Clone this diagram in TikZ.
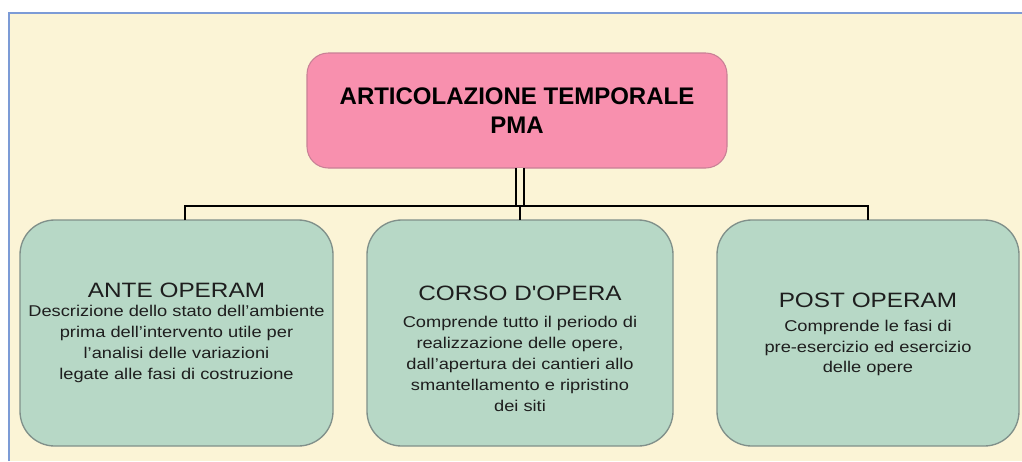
\documentclass[tikz,border=0pt]{standalone}
\usepackage{fontspec}
\setmainfont{Liberation Sans}
\newfontfamily\widefont{Liberation Sans}[FakeStretch=1.17]
\definecolor{cream}{HTML}{FBF4D6}
\definecolor{panelblue}{HTML}{7C9BD6}
\definecolor{boxgreen}{HTML}{B7D8C6}
\definecolor{boxline}{HTML}{80908A}
\definecolor{pinkfill}{HTML}{F890AE}
\definecolor{pinkline}{HTML}{C98096}
\definecolor{txtdark}{HTML}{1E1E1E}
\begin{document}
\begin{tikzpicture}[x=0.75pt,y=-0.75pt,
  phase/.style={draw=boxline, fill=boxgreen, rounded corners=26pt, line width=1pt,
    minimum height=169.5pt, inner sep=0pt, outer sep=0pt},
  headbox/.style={draw=pinkline, fill=pinkfill, rounded corners=16pt, line width=0.8pt,
    minimum width=315pt, minimum height=86.25pt, inner sep=0pt, outer sep=0pt,
    align=center, font=\bfseries\fontsize{18}{22}\selectfont, text=black},
  ttl/.style={inner sep=0pt, font=\widefont\fontsize{15.6}{18}\selectfont, text=txtdark},
  body/.style={inner sep=0pt, align=center, font=\widefont\fontsize{11.7}{15.6}\selectfont, text=txtdark},
  conn/.style={draw=black, line width=1.9pt},
  dbl/.style={draw=black, double=cream, line width=1.6pt, double distance=4.1pt}]
\useasboundingbox (0,0) rectangle (1022,461);
\fill[white] (0,0) rectangle (1022,461);
\fill[cream] (9,13) rectangle (1022,461);
\draw[panelblue, line width=2.2pt] (9,461) -- (9,13) -- (1022,13);

\node[headbox] (pma) at (517,110.5) {ARTICOLAZIONE TEMPORALE\\PMA};

\node[phase, minimum width=234.75pt] (ante) at (176.5,333) {};
\node[phase, minimum width=229.5pt] (corso) at (520,333) {};
\node[phase, minimum width=226.5pt] (post) at (868,333) {};

\coordinate (bus) at (520,206);
\draw[dbl] ([xshift=2.25pt]pma.south) -- ([xshift=2.25pt]pma.south |- bus);
\draw[conn] ([xshift=6.4pt]ante.north) -- ([xshift=6.4pt]ante.north |- bus) -- (post.north |- bus) -- (post.north);
\draw[conn] (corso.north) -- (corso.north |- bus);

\node[ttl] (t1) at (176.5,290) {ANTE OPERAM};
\node[body] (b1) at (176.5,344) {Descrizione dello stato dell’ambiente\\prima dell’intervento utile per\\l’analisi delle variazioni\\legate alle fasi di costruzione};

\node[ttl] (t2) at (520,293) {CORSO D'OPERA};
\node[body] (b2) at (520,364) {Comprende tutto il periodo di\\realizzazione delle opere,\\dall’apertura dei cantieri allo\\smantellamento e ripristino\\dei siti};

\node[ttl] (t3) at (868,300) {POST OPERAM};
\node[body] (b3) at (868,348) {Comprende le fasi di\\pre-esercizio ed esercizio\\delle opere};
\end{tikzpicture}
\end{document}
